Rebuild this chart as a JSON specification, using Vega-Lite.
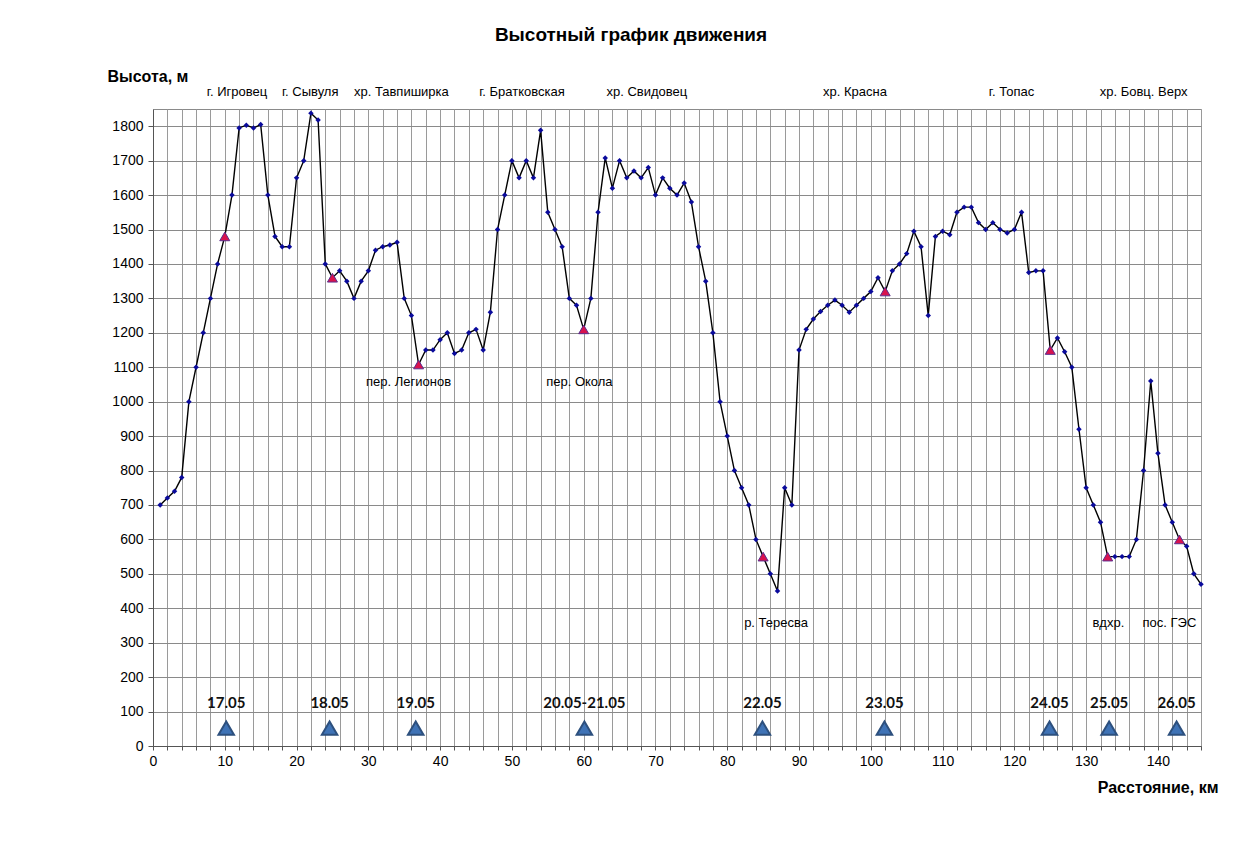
{
  "$schema": "https://vega.github.io/schema/vega-lite/v6.json",
  "autosize": {"type": "none"},
  "padding": {"left": 153, "top": 109, "right": 34, "bottom": 99},
  "width": 1048,
  "height": 637,
  "background": "white",
  "config": {
    "view": {"stroke": "#8a8a8a", "strokeWidth": 1},
    "font": "Liberation Sans"
  },
  "title": {
    "text": "Высотный график движения",
    "font": "Liberation Sans",
    "fontSize": 19,
    "fontWeight": "bold",
    "color": "#000",
    "anchor": "middle",
    "frame": "group",
    "dx": -46,
    "offset": 23
  },
  "datasets": {
    "profile": [
      {"km":1,"h":700,"c":0},{"km":2,"h":720,"c":0},{"km":3,"h":740,"c":0},{"km":4,"h":780,"c":0},{"km":5,"h":1000,"c":0},
      {"km":6,"h":1100,"c":0},{"km":7,"h":1200,"c":0},{"km":8,"h":1300,"c":0},{"km":9,"h":1400,"c":0},{"km":10,"h":1480,"c":1},
      {"km":11,"h":1600,"c":0},{"km":12,"h":1795,"c":0},{"km":13,"h":1803,"c":0},{"km":14,"h":1795,"c":0},{"km":15,"h":1805,"c":0},
      {"km":16,"h":1600,"c":0},{"km":17,"h":1480,"c":0},{"km":18,"h":1450,"c":0},{"km":19,"h":1450,"c":0},{"km":20,"h":1650,"c":0},
      {"km":21,"h":1700,"c":0},{"km":22,"h":1838,"c":0},{"km":23,"h":1818,"c":0},{"km":24,"h":1400,"c":0},{"km":25,"h":1360,"c":1},
      {"km":26,"h":1380,"c":0},{"km":27,"h":1350,"c":0},{"km":28,"h":1300,"c":0},{"km":29,"h":1350,"c":0},{"km":30,"h":1380,"c":0},
      {"km":31,"h":1440,"c":0},{"km":32,"h":1450,"c":0},{"km":33,"h":1455,"c":0},{"km":34,"h":1463,"c":0},{"km":35,"h":1300,"c":0},
      {"km":36,"h":1250,"c":0},{"km":37,"h":1108,"c":1},{"km":38,"h":1150,"c":0},{"km":39,"h":1150,"c":0},{"km":40,"h":1180,"c":0},
      {"km":41,"h":1200,"c":0},{"km":42,"h":1140,"c":0},{"km":43,"h":1150,"c":0},{"km":44,"h":1200,"c":0},{"km":45,"h":1210,"c":0},
      {"km":46,"h":1150,"c":0},{"km":47,"h":1260,"c":0},{"km":48,"h":1500,"c":0},{"km":49,"h":1600,"c":0},{"km":50,"h":1700,"c":0},
      {"km":51,"h":1650,"c":0},{"km":52,"h":1700,"c":0},{"km":53,"h":1650,"c":0},{"km":54,"h":1788,"c":0},{"km":55,"h":1550,"c":0},
      {"km":56,"h":1500,"c":0},{"km":57,"h":1450,"c":0},{"km":58,"h":1300,"c":0},{"km":59,"h":1280,"c":0},{"km":60,"h":1210,"c":1},
      {"km":61,"h":1300,"c":0},{"km":62,"h":1550,"c":0},{"km":63,"h":1708,"c":0},{"km":64,"h":1620,"c":0},{"km":65,"h":1700,"c":0},
      {"km":66,"h":1650,"c":0},{"km":67,"h":1670,"c":0},{"km":68,"h":1650,"c":0},{"km":69,"h":1680,"c":0},{"km":70,"h":1600,"c":0},
      {"km":71,"h":1650,"c":0},{"km":72,"h":1620,"c":0},{"km":73,"h":1600,"c":0},{"km":74,"h":1635,"c":0},{"km":75,"h":1580,"c":0},
      {"km":76,"h":1450,"c":0},{"km":77,"h":1350,"c":0},{"km":78,"h":1200,"c":0},{"km":79,"h":1000,"c":0},{"km":80,"h":900,"c":0},
      {"km":81,"h":800,"c":0},{"km":82,"h":750,"c":0},{"km":83,"h":700,"c":0},{"km":84,"h":600,"c":0},{"km":85,"h":550,"c":1},
      {"km":86,"h":500,"c":0},{"km":87,"h":450,"c":0},{"km":88,"h":750,"c":0},{"km":89,"h":700,"c":0},{"km":90,"h":1150,"c":0},
      {"km":91,"h":1210,"c":0},{"km":92,"h":1240,"c":0},{"km":93,"h":1262,"c":0},{"km":94,"h":1280,"c":0},{"km":95,"h":1295,"c":0},
      {"km":96,"h":1280,"c":0},{"km":97,"h":1260,"c":0},{"km":98,"h":1280,"c":0},{"km":99,"h":1300,"c":0},{"km":100,"h":1320,"c":0},
      {"km":101,"h":1360,"c":0},{"km":102,"h":1320,"c":1},{"km":103,"h":1380,"c":0},{"km":104,"h":1400,"c":0},{"km":105,"h":1430,"c":0},
      {"km":106,"h":1495,"c":0},{"km":107,"h":1450,"c":0},{"km":108,"h":1250,"c":0},{"km":109,"h":1480,"c":0},{"km":110,"h":1495,"c":0},
      {"km":111,"h":1485,"c":0},{"km":112,"h":1550,"c":0},{"km":113,"h":1565,"c":0},{"km":114,"h":1565,"c":0},{"km":115,"h":1520,"c":0},
      {"km":116,"h":1500,"c":0},{"km":117,"h":1520,"c":0},{"km":118,"h":1500,"c":0},{"km":119,"h":1490,"c":0},{"km":120,"h":1500,"c":0},
      {"km":121,"h":1550,"c":0},{"km":122,"h":1375,"c":0},{"km":123,"h":1380,"c":0},{"km":124,"h":1380,"c":0},{"km":125,"h":1150,"c":1},
      {"km":126,"h":1185,"c":0},{"km":127,"h":1145,"c":0},{"km":128,"h":1100,"c":0},{"km":129,"h":920,"c":0},{"km":130,"h":750,"c":0},
      {"km":131,"h":700,"c":0},{"km":132,"h":650,"c":0},{"km":133,"h":550,"c":1},{"km":134,"h":550,"c":0},{"km":135,"h":550,"c":0},
      {"km":136,"h":550,"c":0},{"km":137,"h":600,"c":0},{"km":138,"h":800,"c":0},{"km":139,"h":1060,"c":0},{"km":140,"h":850,"c":0},
      {"km":141,"h":700,"c":0},{"km":142,"h":650,"c":0},{"km":143,"h":600,"c":1},{"km":144,"h":580,"c":0},{"km":145,"h":500,"c":0},
      {"km":146,"h":470,"c":0}
    ],
    "days": [
      {"km":10.2,"day":"17.05"},{"km":24.6,"day":"18.05"},{"km":36.6,"day":"19.05"},{"km":60.1,"day":"20.05-21.05"},
      {"km":84.9,"day":"22.05"},{"km":101.9,"day":"23.05"},{"km":124.9,"day":"24.05"},{"km":133.2,"day":"25.05"},{"km":142.6,"day":"26.05"}
    ],
    "places": [
      {"km":11.7,"h":1900,"name":"г. Игровец"},
      {"km":21.9,"h":1900,"name":"г. Сывуля"},
      {"km":34.6,"h":1900,"name":"хр. Тавпиширка"},
      {"km":51.4,"h":1900,"name":"г. Братковская"},
      {"km":68.8,"h":1900,"name":"хр. Свидовец"},
      {"km":97.8,"h":1900,"name":"хр. Красна"},
      {"km":119.6,"h":1900,"name":"г. Топас"},
      {"km":138,"h":1900,"name":"хр. Бовц. Верх"},
      {"km":35.6,"h":1056,"name":"пер. Легионов"},
      {"km":59.4,"h":1056,"name":"пер. Окола"},
      {"km":86.8,"h":358,"name":"р. Тересва"},
      {"km":133.1,"h":358,"name":"вдхр."},
      {"km":141.6,"h":358,"name":"пос. ГЭС"}
    ]
  },
  "layer": [
    {
      "data": {"name": "profile"},
      "mark": {"type": "line", "color": "#000000", "strokeWidth": 1.4},
      "encoding": {
        "x": {
          "field": "km", "type": "quantitative",
          "scale": {"domain": [0, 146], "nice": false, "zero": true},
          "axis": {
            "title": "Расстояние, км",
            "titleFont": "Liberation Sans", "titleFontSize": 16, "titleFontWeight": "bold", "titleColor": "#000",
            "titleX": 1065, "titleY": 41, "titleAlign": "right", "titleBaseline": "middle",
            "values": [0,2,4,6,8,10,12,14,16,18,20,22,24,26,28,30,32,34,36,38,40,42,44,46,48,50,52,54,56,58,60,62,64,66,68,70,72,74,76,78,80,82,84,86,88,90,92,94,96,98,100,102,104,106,108,110,112,114,116,118,120,122,124,126,128,130,132,134,136,138,140,142,144,146],
            "tickCount": 1000,
            "format": "d",
            "labelExpr": "datum.value % 10 === 0 ? datum.label : ''",
            "labelFont": "Liberation Sans", "labelFontSize": 14, "labelColor": "#000",
            "labelPadding": 4, "labelFlush": false, "labelOverlap": false,
            "tickSize": 4, "tickColor": "#555", "domainColor": "#555",
            "grid": true, "gridColor": "#9a9a9a", "gridWidth": 1
          }
        },
        "y": {
          "field": "h", "type": "quantitative",
          "scale": {"domain": [0, 1850], "nice": false},
          "axis": {
            "title": "Высота, м",
            "titleFont": "Liberation Sans", "titleFontSize": 16, "titleFontWeight": "bold", "titleColor": "#000",
            "titleAngle": 0, "titleX": -46, "titleY": -33, "titleAlign": "left", "titleBaseline": "middle",
            "values": [0,100,200,300,400,500,600,700,800,900,1000,1100,1200,1300,1400,1500,1600,1700,1800],
            "tickCount": 1000,
            "format": "d",
            "labelOverlap": false,
            "labelFont": "Liberation Sans", "labelFontSize": 14, "labelColor": "#000",
            "labelPadding": 5, "tickSize": 5, "tickColor": "#555", "domainColor": "#555",
            "grid": true, "gridColor": "#8a8a8a", "gridWidth": 1
          }
        }
      }
    },
    {
      "data": {"name": "profile"},
      "mark": {"type": "point", "shape": "diamond", "filled": true, "color": "#0a0a9c", "size": 30, "opacity": 1},
      "encoding": {
        "x": {"field": "km", "type": "quantitative"},
        "y": {"field": "h", "type": "quantitative"}
      }
    },
    {
      "data": {"name": "profile"},
      "transform": [{"filter": "datum.c === 1"}],
      "mark": {"type": "point", "shape": "triangle-up", "filled": true, "fill": "#d8124e", "stroke": "#5b2f8f", "strokeWidth": 1, "size": 100, "opacity": 1},
      "encoding": {
        "x": {"field": "km", "type": "quantitative"},
        "y": {"field": "h", "type": "quantitative"}
      }
    },
    {
      "data": {"name": "days"},
      "mark": {"type": "point", "shape": "triangle-up", "filled": true, "fill": "#3f73b6", "stroke": "#2d507e", "strokeWidth": 2, "size": 240, "opacity": 1},
      "encoding": {
        "x": {"field": "km", "type": "quantitative"},
        "y": {"datum": 52, "type": "quantitative"}
      }
    },
    {
      "data": {"name": "days"},
      "mark": {"type": "text", "font": "Lato", "fontSize": 15, "fontWeight": "bold", "color": "#111", "baseline": "middle", "align": "center"},
      "encoding": {
        "x": {"field": "km", "type": "quantitative"},
        "y": {"datum": 125, "type": "quantitative"},
        "text": {"field": "day"}
      }
    },
    {
      "data": {"name": "places"},
      "mark": {"type": "text", "font": "Liberation Sans", "fontSize": 13, "color": "#000", "baseline": "middle", "align": "center", "clip": false},
      "encoding": {
        "x": {"field": "km", "type": "quantitative"},
        "y": {"field": "h", "type": "quantitative"},
        "text": {"field": "name"}
      }
    }
  ]
}
